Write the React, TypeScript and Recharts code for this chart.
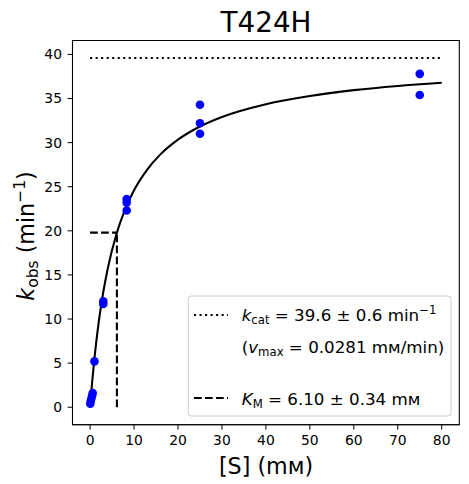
import React from 'react'
import {
  ComposedChart,
  Line,
  Scatter,
  XAxis,
  YAxis,
  ReferenceLine,
  ReferenceArea,
} from 'recharts'

const S_MEASURED = [0.05, 0.15, 0.3, 0.45, 0.6, 1, 3, 3, 8.33, 8.33, 8.33, 25, 25, 25, 75, 75]
const K_MEASURED = [0.4, 0.7, 1.0, 1.3, 1.6, 5.2, 11.7, 12.0, 23.6, 23.2, 22.3, 34.3, 32.2, 31.0, 37.8, 35.4]

// fitted Michaelis-Menten curve, sampled from the plot
const CURVE_S = [0, 0.25, 0.5, 1, 2, 3, 4, 6, 8, 10, 13, 16, 20, 25, 30, 40, 50, 60, 70, 80]
const CURVE_K = [0, 1.56, 3.0, 5.58, 9.78, 13.05, 15.68, 19.64, 22.47, 24.6, 26.95, 28.67, 30.34, 31.83, 32.91, 34.36, 35.29, 35.95, 36.43, 36.79]

const KCAT = 39.6
const KM = 6.1
const S_MAX = 80

const X_TICKS = [0, 10, 20, 30, 40, 50, 60, 70, 80]
const Y_TICKS = [0, 5, 10, 15, 20, 25, 30, 35, 40]

const FONT = '"DejaVu Sans", sans-serif'
const W = 469
const H = 484

const points = S_MEASURED.map((s, i) => ({ x: s, y: K_MEASURED[i] }))
const curve = CURVE_S.map((s, i) => ({ x: s, y: CURVE_K[i] }))

const tickStyle = { fill: '#000', fontSize: 13.9, fontFamily: FONT }

export default function App() {
  return (
    <div style={{ position: 'absolute', left: 0, top: 0, width: W, height: H, background: '#fff' }}>
      <ComposedChart
        width={W}
        height={H}
        margin={{ top: 40.5, right: 9.7, left: 0, bottom: 0 }}
      >
        <XAxis
          type="number"
          dataKey="x"
          domain={[-4, 84]}
          ticks={X_TICKS}
          allowDataOverflow
          height={59.3}
          tick={tickStyle}
          tickSize={4.9}
          tickMargin={5.8}
          stroke="#000"
          tickLine={{ stroke: '#000' }}
        />
        <YAxis
          type="number"
          dataKey="y"
          domain={[-1.98, 41.58]}
          ticks={Y_TICKS}
          allowDataOverflow
          width={72.5}
          tick={tickStyle}
          tickSize={4.9}
          tickMargin={5.6}
          stroke="#000"
          tickLine={{ stroke: '#000' }}
        />
        <ReferenceArea
          x1={-4}
          x2={84}
          y1={-1.98}
          y2={41.58}
          fill="none"
          stroke="#000"
          strokeWidth={1.1}
        />
        <ReferenceLine
          segment={[{ x: 0, y: KCAT }, { x: S_MAX, y: KCAT }]}
          stroke="#000"
          strokeWidth={2.08}
          strokeDasharray="2.08 3.44"
        />
        <ReferenceLine
          segment={[{ x: 0, y: KCAT / 2 }, { x: KM, y: KCAT / 2 }]}
          stroke="#000"
          strokeWidth={2.08}
          strokeDasharray="7.7 3.3"
        />
        <ReferenceLine
          segment={[{ x: KM, y: 0 }, { x: KM, y: KCAT / 2 }]}
          stroke="#000"
          strokeWidth={2.08}
          strokeDasharray="7.7 3.3"
        />
        <Line
          data={curve}
          dataKey="y"
          type="monotone"
          stroke="#000"
          strokeWidth={2.08}
          dot={false}
          isAnimationActive={false}
        />
        <Scatter
          data={points}
          dataKey="y"
          isAnimationActive={false}
          shape={(p: any) => <circle cx={p.cx} cy={p.cy} r={4.3} fill="#0000ff" />}
        />
      </ComposedChart>

      {/* title, axis labels and legend */}
      <svg
        width={W}
        height={H}
        style={{ position: 'absolute', left: 0, top: 0, pointerEvents: 'none' }}
        fontFamily={FONT}
      >
        <text x={266} y={32.3} textAnchor="middle" fontSize={27.8}>T424H</text>
        <text x={266} y={474} textAnchor="middle" fontSize={22.2}>[S] (mм)</text>
        <text transform="translate(33.5,236) rotate(-90)" textAnchor="middle" fontSize={22.2}>
          <tspan fontStyle="italic">k</tspan>
          <tspan fontSize={15.5} dy={4}>obs</tspan>
          <tspan dy={-4}> (min</tspan>
          <tspan fontSize={15.5} dy={-9}>−1</tspan>
          <tspan dy={9}>)</tspan>
        </text>

        <rect x={188.3} y={296} width={262.7} height={120} rx={3} fill="#fff" fillOpacity={0.8} stroke="#cccccc" strokeWidth={1} />
        <line x1={194} y1={315} x2={228} y2={315} stroke="#000" strokeWidth={2.08} strokeDasharray="2.08 3.44" />
        <text x={241.7} y={320.7} fontSize={16.7}>
          <tspan fontStyle="italic">k</tspan>
          <tspan fontSize={11.7} dy={3}>cat</tspan>
          <tspan dy={-3}> = 39.6 ± 0.6 min</tspan>
          <tspan fontSize={11.7} dy={-7}>−1</tspan>
        </text>
        <text x={241.7} y={353} fontSize={16.7}>
          <tspan>(</tspan>
          <tspan fontStyle="italic">v</tspan>
          <tspan fontSize={11.7} dy={3}>max</tspan>
          <tspan dy={-3}> = 0.0281 mм/min)</tspan>
        </text>
        <line x1={194} y1={398} x2={228} y2={398} stroke="#000" strokeWidth={2.08} strokeDasharray="7.7 3.3" />
        <text x={241.7} y={404.5} fontSize={16.7}>
          <tspan fontStyle="italic">K</tspan>
          <tspan fontSize={11.7} dy={3}>M</tspan>
          <tspan dy={-3}> = 6.10 ± 0.34 mм</tspan>
        </text>
      </svg>
    </div>
  )
}
